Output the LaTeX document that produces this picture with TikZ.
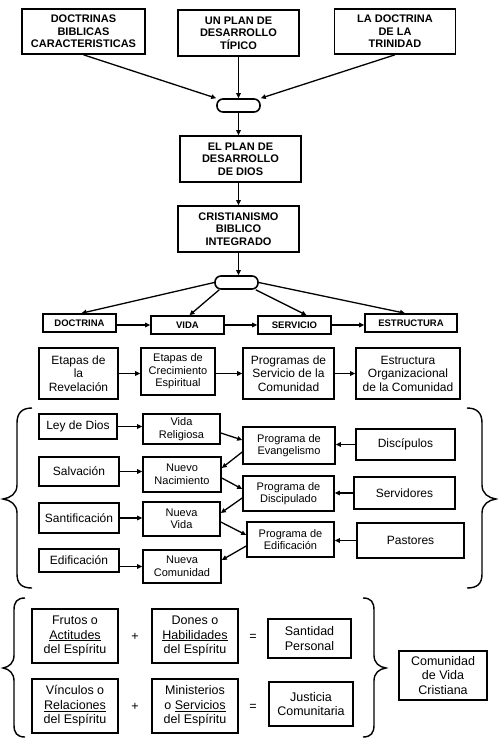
\documentclass[tikz,border=0pt]{standalone}
\usepackage{fontspec}
\setmainfont{Liberation Sans}
\usetikzlibrary{arrows.meta}
\tikzset{
  bx/.style 2 args={draw,line width=1.6pt,align=center,inner sep=0pt,minimum width=#1,minimum height=#2},
  oval/.style={draw,line width=1.6pt,rounded corners=6pt,minimum width=43pt,minimum height=13pt,inner sep=0pt},
  arr/.style={-{Triangle[length=5pt,width=4.5pt]},line width=1.3pt},
  brace/.style={line width=1.4pt},
  fA/.style={font=\fontsize{11}{12.5}\selectfont\bfseries},
  fB/.style={font=\fontsize{9.5}{11}\selectfont\bfseries},
  fC/.style={font=\fontsize{12}{13.5}\selectfont},
  fD/.style={font=\fontsize{11}{12.5}\selectfont},
  fE/.style={font=\fontsize{12.5}{14.5}\selectfont},
}
\begin{document}
\begin{tikzpicture}[x=1pt,y=-1pt]
\useasboundingbox (0,0) rectangle (498,748);
\fill[white] (0,0) rectangle (498,748);
% top
\node[bx={123pt}{45pt},fA] (t1) at (83.5,31.5) {DOCTRINAS\\BIBLICAS\\CARACTERISTICAS};
\node[bx={121pt}{46pt},fA] (t2) at (238.5,33) {UN PLAN DE\\DESARROLLO\\TÍPICO};
\node[bx={121pt}{45pt},fA] (t3) at (395,31.5) {LA DOCTRINA\\DE LA\\TRINIDAD};
\node[oval] (o1) at (238.5,105.5) {};
\node[bx={121pt}{46pt},fA] (plan) at (240.5,159) {EL PLAN DE\\DESARROLLO\\DE DIOS};
\node[bx={121pt}{46pt},fA] (crist) at (238.5,229) {CRISTIANISMO\\BIBLICO\\INTEGRADO};
\node[oval] (o2) at (236.5,282.5) {};
\draw[arr] (t1.south) -- (o1.north west);
\draw[arr] (t2.south) -- (o1.north);
\draw[arr] (t3.south) -- (o1.north east);
\draw[arr] (o1.south) -- (o1.south |- plan.north);
\draw[arr] (crist.north |- plan.south) -- (crist.north);
\draw[arr] (crist.south) -- (crist.south |- o2.north);
% row
\node[bx={73pt}{18pt},fB] (doc) at (79.5,323) {DOCTRINA};
\node[bx={73pt}{18pt},fB] (vida) at (187.5,325) {VIDA};
\node[bx={73pt}{18pt},fB] (serv) at (294.5,325) {SERVICIO};
\node[bx={92pt}{18pt},fB] (estr) at (411,323) {ESTRUCTURA};
\draw[arr] (o2.west) -- ([xshift=2pt]doc.north);
\draw[arr] ([xshift=5pt]o2.south west) -- ([xshift=2pt]vida.north);
\draw[arr] ([xshift=-3pt]o2.south east) -- ([xshift=12pt]serv.north);
\draw[arr] (o2.east) -- ([xshift=-6pt]estr.north);
\draw[arr] (doc.east |- vida.west) -- (vida.west);
\draw[arr] (vida.east) -- (serv.west);
\draw[arr] (serv.east) -- (serv.east -| estr.west);
% etapas
\node[bx={79pt}{51pt},fC] (e1) at (78.5,373.5) {Etapas de\\la\\Revelación};
\node[bx={74pt}{47pt},fD] (e2) at (178,371.5) {Etapas de\\Crecimiento\\Espiritual};
\node[bx={91pt}{51pt},fC] (e3) at (288.5,373.5) {Programas de\\Servicio de la\\Comunidad};
\node[bx={104pt}{51pt},fC] (e4) at (408,373.5) {Estructura\\Organizacional\\de la Comunidad};
\draw[arr] (e1.east) -- (e1.east -| e2.west);
\draw[arr] (e2.east |- e3.west) -- (e3.west);
\draw[arr] (e3.east) -- (e3.east -| e4.west);
% middle section
\node[bx={78pt}{25pt},fC] (ley) at (78,426.5) {Ley de Dios};
\node[bx={77pt}{30pt},fD] (vrel) at (181.5,429) {Vida\\Religiosa};
\node[bx={92pt}{37pt},fD] (pev) at (289,445.5) {Programa de\\Evangelismo};
\node[bx={99pt}{31pt},fC] (disc) at (405.5,444.5) {Discípulos};
\node[bx={80pt}{29pt},fC] (salv) at (79,471.5) {Salvación};
\node[bx={78pt}{35pt},fD] (nnac) at (182,474.5) {Nuevo\\Nacimiento};
\node[bx={91pt}{35pt},fD] (pdis) at (288.5,493.5) {Programa de\\Discipulado};
\node[bx={101pt}{32pt},fC] (serv2) at (404.5,493) {Servidores};
\node[bx={80pt}{30pt},fC] (sant) at (79,518) {Santificación};
\node[bx={77pt}{34pt},fD] (nvida) at (181.5,519) {Nueva\\Vida};
\node[bx={87pt}{35pt},fD] (pedi) at (290.5,539.5) {Programa de\\Edificación};
\node[bx={107pt}{35pt},fC] (past) at (410.5,540.5) {Pastores};
\node[bx={80pt}{23pt},fC] (edif) at (79,560.5) {Edificación};
\node[bx={78pt}{33pt},fD] (ncom) at (182,566.5) {Nueva\\Comunidad};
\draw[arr] (ley.east) -- (ley.east -| vrel.west);
\draw[arr] (salv.east) -- (salv.east -| nnac.west);
\draw[arr] (sant.east) -- (sant.east -| nvida.west);
\draw[arr] (edif.east |- ncom.west) -- (ncom.west);
\draw[arr] ([yshift=-4pt]vrel.east) -- ([yshift=5.5pt]pev.west);
\draw[arr] ([yshift=-6.5pt]pev.west) -- ([yshift=6.5pt]nnac.east);
\draw[arr] ([yshift=-3.5pt]nnac.east) -- ([yshift=4.5pt]pdis.west);
\draw[arr] ([yshift=-4.5pt]pdis.west) -- ([yshift=6pt]nvida.east);
\draw[arr] ([yshift=-3pt]nvida.east) -- ([yshift=4.5pt]pedi.west);
\draw[arr] ([yshift=-6.5pt]pedi.west) -- ([yshift=6.5pt]ncom.east);
\draw[arr] (disc.west) -- (disc.west -| pev.east);
\draw[arr] (serv2.west) -- (serv2.west -| pdis.east);
\draw[arr] (past.west) -- (past.west -| pedi.east);
% middle braces
\draw[brace] (32,408) .. controls (22,408) and (17,413) .. (17,423) -- (17,485)
  .. controls (17,494) and (10,498) .. (3,499) .. controls (10,500) and (17,504) .. (17,513)
  -- (17,574) .. controls (17,584) and (22,588) .. (32,588);
\draw[brace] (467,408) .. controls (477,408) and (482,413) .. (482,423) -- (482,485)
  .. controls (482,494) and (489,498) .. (496,499) .. controls (489,500) and (482,504) .. (482,513)
  -- (482,574) .. controls (482,584) and (477,588) .. (467,588);
% bottom
\node[bx={86pt}{54pt},fE] (fr) at (75,636) {Frutos o\\\underline{Actitudes}\\del Espíritu};
\node[bx={86pt}{54pt},fE] (don) at (195,636) {Dones o\\\underline{Habilidades}\\del Espíritu};
\node[bx={83pt}{39pt},fE] (stp) at (309.5,638.5) {Santidad\\Personal};
\node[bx={86pt}{54pt},fE] (vin) at (75,706) {Vínculos o\\\underline{Relaciones}\\del Espíritu};
\node[bx={86pt}{54pt},fE] (min) at (195,706) {Ministerios\\o \underline{Servicios}\\del Espíritu};
\node[bx={84pt}{44pt},fE] (jus) at (311,704) {Justicia\\Comunitaria};
\node[bx={88pt}{49pt},fE] (cvc) at (443,675.5) {Comunidad\\de Vida\\Cristiana};
\node[fE] (p1) at (135,637) {+};
\node[fE] (q1) at (253,637) {=};
\node[fE] (p2) at (135,707) {+};
\node[fE] (q2) at (253,707) {=};
\draw[brace] (25,598) .. controls (17,598) and (14,602) .. (14,610) -- (14,655)
  .. controls (14,663) and (9,667) .. (3,668) .. controls (9,669) and (14,673) .. (14,681)
  -- (14,725) .. controls (14,733) and (17,737) .. (25,737);
\draw[brace] (363,598) .. controls (371,598) and (374,602) .. (374,610) -- (374,655)
  .. controls (374,663) and (379,667) .. (386,668) .. controls (379,669) and (374,673) .. (374,681)
  -- (374,725) .. controls (374,733) and (371,737) .. (363,737);
\end{tikzpicture}
\end{document}
